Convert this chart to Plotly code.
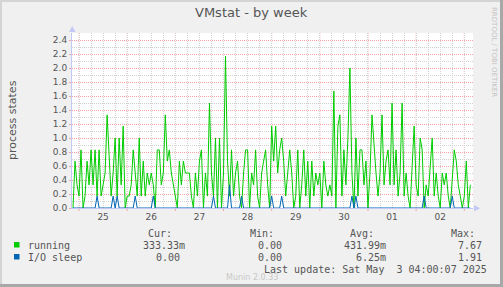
import plotly.graph_objects as go
import pandas as pd

# ---------------- data ----------------
start_time = "2025-04-24 21:00"          # first hourly sample
x_range = ["2025-04-24 20:30", "2025-05-03 04:20"]

running = [
    0.0, 0.67, 0.33, 0.17, 0.83, 0.0, 0.17, 0.67, 0.33, 0.83, 0.33, 0.83,
    0.17, 0.83, 0.17, 0.33, 0.5, 1.33, 0.67, 0.17, 0.5, 1.0, 0.17, 1.0,
    0.33, 1.17, 0.0, 0.17, 0.17, 0.33, 0.83, 0.5, 0.17, 1.0, 0.17, 0.67,
    0.17, 0.5, 0.33, 0.5, 0.33, 0.0, 0.83, 0.83, 0.33, 0.5, 1.33, 0.67,
    0.83, 0.5, 0.33, 0.17, 0.0, 0.67, 0.33, 0.67, 0.5, 0.5, 0.5, 0.17,
    0.0, 0.5, 0.17, 0.67, 0.83, 0.0, 0.5, 0.17, 1.5, 0.5, 0.17, 1.0,
    0.0, 1.0, 0.0, 0.5, 2.17, 0.67, 0.17, 0.83, 0.17, 0.5, 0.67, 0.17,
    0.0, 0.5, 0.83, 0.83, 0.0, 0.5, 0.33, 0.83, 0.17, 0.0, 0.5, 0.67,
    0.83, 0.33, 0.0, 1.17, 0.67, 1.17, 0.5, 0.83, 1.0, 0.67, 0.17, 0.5,
    0.83, 0.5, 0.0, 0.17, 0.83, 0.0, 0.33, 0.83, 0.17, 0.67, 0.0, 0.67,
    0.17, 0.5, 0.33, 0.5, 0.0, 0.67, 0.33, 0.17, 0.33, 0.17, 1.67, 0.0,
    1.17, 1.33, 0.17, 0.83, 0.33, 1.0, 2.0, 0.5, 0.0, 1.0, 0.17, 0.83,
    0.83, 0.33, 0.67, 0.0, 0.5, 1.33, 0.83, 0.5, 0.17, 0.5, 1.33, 0.33,
    0.67, 0.83, 0.33, 1.5, 0.33, 0.83, 0.17, 0.5, 1.5, 0.17, 0.5, 0.17,
    0.0, 0.67, 1.17, 0.33, 0.17, 1.0, 0.83, 0.0, 0.33, 0.17, 0.67, 1.0,
    0.17, 0.5, 0.17, 0.0, 0.5, 0.33, 0.5, 0.17, 0.0, 0.5, 0.83, 0.67,
    0.33, 0.17, 0.0, 0.17, 0.67, 0.0, 0.33,
]

io_sleep = [
    0, 0, 0, 0, 0, 0, 0, 0, 0, 0, 0, 0,
    0.17, 0, 0, 0, 0, 0, 0, 0, 0.17, 0, 0.17, 0,
    0, 0, 0, 0, 0, 0, 0, 0.17, 0, 0, 0, 0,
    0, 0, 0, 0, 0.17, 0, 0, 0, 0, 0, 0, 0,
    0, 0, 0, 0, 0, 0, 0, 0, 0, 0, 0, 0,
    0, 0, 0, 0, 0, 0, 0, 0, 0, 0, 0.17, 0,
    0, 0, 0, 0, 0, 0, 0.33, 0, 0, 0, 0, 0,
    0.17, 0, 0, 0, 0, 0, 0, 0, 0, 0, 0, 0,
    0, 0, 0, 0.17, 0, 0, 0, 0, 0.17, 0, 0, 0,
    0, 0, 0, 0, 0, 0, 0, 0, 0, 0, 0, 0,
    0, 0, 0, 0, 0, 0, 0, 0, 0, 0, 0, 0,
    0, 0, 0, 0, 0, 0, 0, 0.17, 0, 0.17, 0, 0,
    0, 0, 0, 0, 0, 0, 0, 0, 0, 0, 0, 0,
    0, 0, 0, 0, 0, 0, 0, 0, 0, 0, 0, 0,
    0, 0, 0, 0, 0, 0, 0, 0.17, 0, 0, 0, 0,
    0, 0, 0, 0, 0, 0, 0, 0, 0, 0.17, 0, 0,
    0, 0, 0, 0, 0, 0, 0,
]

day_labels = ["25", "26", "27", "28", "29", "30", "01", "02"]
day_label_times = ["2025-04-25 12:00", "2025-04-26 12:00", "2025-04-27 12:00",
                   "2025-04-28 12:00", "2025-04-29 12:00", "2025-04-30 12:00",
                   "2025-05-01 12:00", "2025-05-02 12:00"]
midnights = ["2025-04-25", "2025-04-26", "2025-04-27", "2025-04-28",
             "2025-04-29", "2025-04-30", "2025-05-01", "2025-05-02", "2025-05-03"]

series_names = ["running", "I/O sleep"]
series_colors = ["#00cc00", "#0066b3"]
stat_cur = ["333.33m", "0.00"]
stat_min = ["0.00", "0.00"]
stat_avg = ["431.99m", "6.25m"]
stat_max = ["7.67", "1.91"]

title_text = "VMstat - by week"
y_title = "process states"
last_update = "Last update: Sat May \u00a03 04:00:07 2025"
version_text = "Munin 2.0.33"
side_text = "RRDTOOL / TOBI OETIKER"

# ---------------- figure ----------------
W, H = 503, 287
L, R, T, B = 72, 473, 33, 208


def px(xp):
    return (xp - L) / (R - L)


def py(yp):
    return (B - yp) / (B - T)


times = pd.date_range(start_time, periods=len(running), freq="h")

fig = go.Figure()
fig.add_trace(go.Scatter(x=times, y=running, mode="lines", name=series_names[0],
                         line=dict(color=series_colors[0], width=1)))
fig.add_trace(go.Scatter(x=times, y=io_sleep, mode="lines", name=series_names[1],
                         line=dict(color=series_colors[1], width=1)))

RED = "#f5a3a3"
GRAY = "#d2d2d2"
AXIS = "#c4c8f4"
TXT = "#555555"

fig.update_layout(
    width=W, height=H,
    margin=dict(l=L, r=W - R, t=T, b=H - B, pad=0),
    paper_bgcolor="#f0f0f0",
    plot_bgcolor="#ffffff",
    showlegend=False,
    font=dict(family="DejaVu Sans", size=9, color=TXT),
    xaxis=dict(
        type="date", range=x_range,
        tickmode="array", tickvals=day_label_times, ticktext=day_labels,
        ticks="", showgrid=False, zeroline=False,
        showline=True, linecolor=AXIS, linewidth=1,
        tickfont=dict(family="DejaVu Sans", size=9, color=TXT),
        minor=dict(tickmode="linear", tick0="2025-04-25 00:00", dtick=21600000,
                   showgrid=True, gridcolor=GRAY, griddash="1px,1px", gridwidth=1,
                   ticks=""),
    ),
    yaxis=dict(
        range=[0, 2.5], tickmode="linear", tick0=0, dtick=0.2,
        tickformat=".1f",
        showgrid=True, gridcolor=RED, griddash="1px,1px", gridwidth=1,
        zeroline=False, showline=True, linecolor=AXIS, linewidth=1,
        ticks="outside", ticklen=2, tickcolor=RED,
        tickfont=dict(family="DejaVu Sans", size=9, color=TXT),
        minor=dict(tickmode="linear", tick0=0, dtick=0.1, showgrid=True,
                   gridcolor=GRAY, griddash="1px,1px", gridwidth=1, ticks=""),
    ),
)

shapes = []
for m in midnights:
    shapes.append(dict(type="line", xref="x", yref="paper", x0=m, x1=m, y0=0, y1=1,
                       line=dict(color=RED, width=1, dash="1px,1px"), layer="below"))
    shapes.append(dict(type="line", xref="x", yref="paper", x0=m, x1=m,
                       y0=py(B + 1), y1=py(B + 3),
                       line=dict(color=RED, width=1), layer="above"))
# axis arrows
shapes.append(dict(type="path", xref="paper", yref="paper",
                   path=f"M {px(69)} {py(32)} L {px(75.5)} {py(32)} L {px(72.3)} {py(26)} Z",
                   fillcolor=AXIS, line=dict(width=0)))
shapes.append(dict(type="path", xref="paper", yref="paper",
                   path=f"M {px(474)} {py(205)} L {px(474)} {py(211.5)} L {px(480)} {py(208.3)} Z",
                   fillcolor=AXIS, line=dict(width=0)))
# legend squares
for i, c in enumerate(series_colors):
    yc = 245 + 12 * i
    shapes.append(dict(type="rect", xref="paper", yref="paper",
                       x0=px(14), x1=px(19.5), y0=py(yc - 3), y1=py(yc + 2.5),
                       fillcolor=c, line=dict(width=0)))
# image frame
shapes.append(dict(type="rect", xref="paper", yref="paper",
                   x0=px(0), x1=px(2), y0=py(0), y1=py(H), fillcolor="#d4d4d4", line=dict(width=0)))
shapes.append(dict(type="rect", xref="paper", yref="paper",
                   x0=px(0), x1=px(W), y0=py(0), y1=py(2), fillcolor="#d4d4d4", line=dict(width=0)))
shapes.append(dict(type="rect", xref="paper", yref="paper",
                   x0=px(W - 3), x1=px(W), y0=py(0), y1=py(H), fillcolor="#a8a8a8", line=dict(width=0)))
shapes.append(dict(type="rect", xref="paper", yref="paper",
                   x0=px(0), x1=px(W), y0=py(H - 3), y1=py(H), fillcolor="#a8a8a8", line=dict(width=0)))
fig.update_layout(shapes=shapes)

MONO = "DejaVu Sans Mono"
ann = []


def add_text(text, x, y, anchor, size=10, color=TXT, family=MONO, angle=0):
    ann.append(dict(text=text, xref="paper", yref="paper", x=px(x), y=py(y),
                    xanchor=anchor, yanchor="middle", showarrow=False,
                    borderpad=0, textangle=angle,
                    font=dict(family=family, size=size, color=color)))


add_text(title_text, 251, 13, "center", size=13, family="DejaVu Sans")
add_text(y_title, 12, 120, "center", size=11, family="DejaVu Sans", angle=-90)
add_text(side_text, 494, 52, "center", size=7, color="#c4c4c4",
         family="DejaVu Sans", angle=90)

add_text("Cur:", 173, 233, "right")
add_text("Min:", 275, 233, "right")
add_text("Avg:", 375, 233, "right")
add_text("Max:", 476, 233, "right")

cur_right = [186, 181]
for i, name in enumerate(series_names):
    yc = 245 + 12 * i
    add_text(name, 26.5, yc, "left")
    add_text(stat_cur[i], cur_right[i], yc, "right")
    add_text(stat_min[i], 283, yc, "right")
    add_text(stat_avg[i], 387, yc, "right")
    add_text(stat_max[i], 483, yc, "right")

add_text(last_update, 488, 269, "right")
add_text(version_text, 252, 277, "center", size=8, color="#c8c8c8", family="DejaVu Sans")

fig.update_layout(annotations=ann)

fig.write_html("out.html")
